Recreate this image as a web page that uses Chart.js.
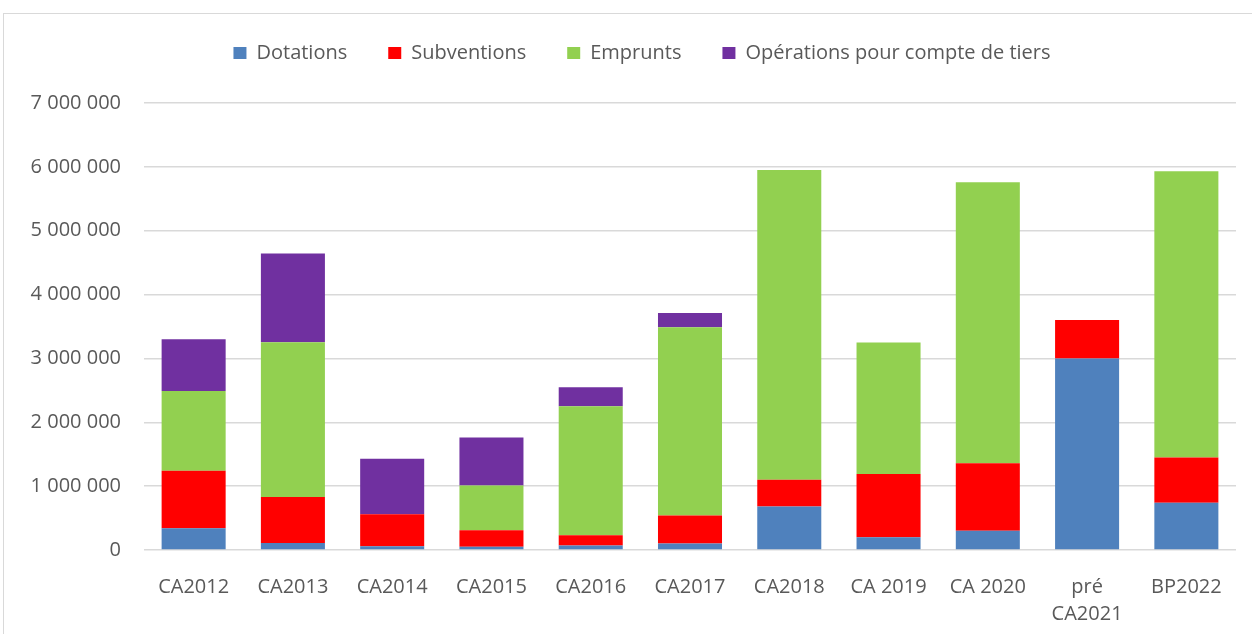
<!DOCTYPE html>
<html>
<head>
<meta charset="utf-8">
<script src="https://cdn.jsdelivr.net/npm/chart.js@4/dist/chart.umd.min.js"></script>
<style>
  html, body { margin: 0; padding: 0; background: #ffffff; overflow: hidden; }
  #frame { position: absolute; left: 3px; top: 13px; width: 1270px; height: 640px; border: 1px solid #d9d9d9; box-sizing: border-box; }
  #c { position: absolute; left: 0; top: 0; }
</style>
</head>
<body>
<div id="frame"></div>
<canvas id="c" width="1252" height="634"></canvas>
<script>
const categories = ['CA2012', 'CA2013', 'CA2014', 'CA2015', 'CA2016', 'CA2017', 'CA2018', 'CA 2019', 'CA 2020', ['pré', 'CA2021'], 'BP2022'];
const dotations   = [340000, 110000, 60000, 50000, 70000, 100000, 680000, 200000, 300000, 3000000, 740000];
const subventions = [900000, 720000, 500000, 260000, 160000, 440000, 420000, 990000, 1060000, 600000, 710000];
const emprunts    = [1250000, 2425000, 0, 700000, 2020000, 2950000, 4850000, 2060000, 4400000, 0, 4480000];
const operations  = [810000, 1390000, 870000, 750000, 300000, 220000, 0, 0, 0, 0, 0];
const seriesNames = ['Dotations', 'Subventions', 'Emprunts', 'Opérations pour compte de tiers'];
const yTicks = [0, 1000000, 2000000, 3000000, 4000000, 5000000, 6000000, 7000000];

const colors = ['#4f81bd', '#ff0000', '#92d050', '#7030a0'];
const FONT = "'Open Sans', 'Noto Sans', sans-serif";
const TEXT = '#595959';

function fmt(v) {
  return String(Math.round(v)).replace(/\B(?=(\d{3})+(?!\d))/g, ' ');
}

const legendTweak = {
  id: 'legendTweak',
  beforeInit(chart) {
    const orig = chart.legend.fit;
    chart.legend.fit = function () {
      orig.bind(chart.legend)();
      this.height = 101;
    };
  },
  afterLayout(chart) {
    chart.legend.left += 24;
    chart.legend.right += 24;
  }
};

new Chart(document.getElementById('c'), {
  type: 'bar',
  data: {
    labels: categories,
    datasets: [dotations, subventions, emprunts, operations].map((d, i) => ({
      label: seriesNames[i],
      data: d,
      backgroundColor: colors[i],
      borderWidth: 0,
      categoryPercentage: 1.0,
      barPercentage: 0.645
    }))
  },
  options: {
    responsive: false,
    devicePixelRatio: 1,
    animation: false,
    layout: { padding: { top: 2, right: 16, bottom: 0, left: 0 } },
    plugins: {
      legend: {
        position: 'top',
        labels: {
          boxWidth: 13,
          boxHeight: 12,
          padding: 41,
          color: TEXT,
          font: { family: FONT, size: 20 }
        }
      },
      tooltip: { enabled: false }
    },
    scales: {
      x: {
        stacked: true,
        grid: { display: false },
        border: { display: false },
        ticks: {
          color: TEXT,
          padding: 15,
          maxRotation: 0,
          autoSkip: false,
          font: { family: FONT, size: 20, lineHeight: 1.38 }
        },
        afterFit(axis) { axis.height = 84; }
      },
      y: {
        stacked: true,
        min: 0,
        max: 7000000,
        afterBuildTicks(axis) { axis.ticks = yTicks.map(v => ({ value: v })); },
        grid: { color: '#d9d9d9', lineWidth: 1.5, drawTicks: false },
        border: { display: false },
        ticks: {
          color: TEXT,
          padding: 23,
          font: { family: FONT, size: 20 },
          callback: (v) => fmt(v)
        },
        afterFit(axis) { axis.width = 144; }
      }
    }
  },
  plugins: [legendTweak]
});
</script>
</body>
</html>
